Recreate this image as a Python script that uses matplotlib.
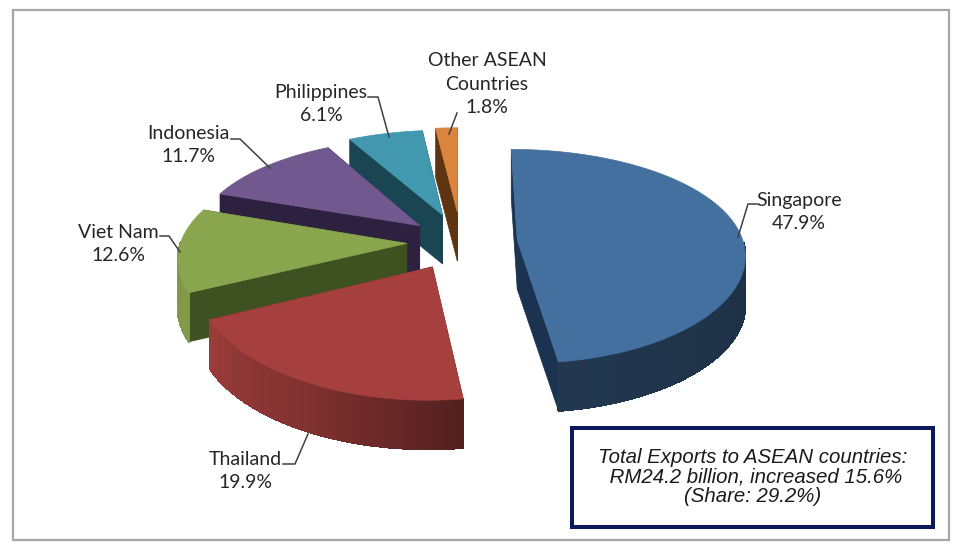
"""
Malaysia exports to ASEAN, exploded 3D pie drawn by hand with a small perspective projection
"""
import numpy as np
import matplotlib
matplotlib.use("Agg")
import matplotlib.pyplot as plt
from matplotlib.patches import Polygon, Rectangle
from matplotlib.collections import PolyCollection
from matplotlib.colors import to_rgb

countries = ["Singapore", "Thailand", "Viet Nam", "Indonesia", "Philippines", "Other ASEAN\nCountries"]
shares = [47.9, 19.9, 12.6, 11.7, 6.1, 1.8]

colors = ["#44709F", "#A5403E", "#89A54E", "#71588F", "#4198AF", "#DB843D"]
radial_colors = ["#1B3350", "#5A1F1F", "#3D5220", "#2E2140", "#1A4552", "#5E3510"]
explode = [0.25, 0.26, 0.24, 0.245, 0.28, 0.30]

# projection settings, in pixels
cx, cy = 461, 242
rx, ry = 226, 105
persp_x, persp_y = 0.12, 0.15
depth = 49


def project(x, y):
    return cx + rx * x / (1 + persp_x * y), cy - ry * y / (1 + persp_y * y)


fig = plt.figure(figsize=(9.6, 5.46), dpi=100)
ax = fig.add_axes([0, 0, 1, 1])
ax.set_xlim(0, 960)
ax.set_ylim(546, 0)
ax.axis("off")

ax.add_patch(Rectangle((13, 10), 936, 530, fc="white", ec="#A6A6A6", lw=1.6))

edges = np.cumsum([0] + shares) / 100 * 2 * np.pi


def shade(theta):
    # rim brightness around the pie
    deg = np.degrees(theta)
    return np.interp(deg, [90, 172, 205, 244, 270], [0.42, 0.5, 0.76, 0.94, 0.92])


# back slices first, Singapore goes on top
for i in range(len(shares) - 1, -1, -1):
    a0, a1 = edges[i], edges[i + 1]
    mid = (a0 + a1) / 2
    ex, ey = explode[i] * np.sin(mid), explode[i] * np.cos(mid)
    th = np.linspace(a0, a1, 80)
    px, py = project(ex + np.sin(th), ey + np.cos(th))
    ax_, ay_ = project(ex, ey)
    base = np.array(to_rgb(colors[i]))
    z = 3 * (5 - i)

    # radial walls
    for xr, yr in [(px[0], py[0]), (px[-1], py[-1])]:
        ax.add_patch(Polygon([(ax_, ay_), (xr, yr), (xr, yr + depth), (ax_, ay_ + depth)],
                             fc=radial_colors[i], ec=radial_colors[i], lw=0.5, zorder=2 + z))

    # rim wall, only the part turned to the viewer
    quads, cols = [], []
    for j in range(len(th) - 1):
        if np.cos(th[j]) > 0:
            continue
        quads.append([(px[j], py[j]), (px[j + 1], py[j + 1]),
                      (px[j + 1], py[j + 1] + depth), (px[j], py[j] + depth)])
        cols.append(np.clip(base * shade(th[j]), 0, 1))
    if quads:
        ax.add_collection(PolyCollection(quads, facecolors=cols, edgecolors=cols, lw=0.8,
                                         antialiaseds=False, zorder=3 + z))

    # top face
    ax.add_patch(Polygon(np.column_stack([np.r_[ax_, px], np.r_[ay_, py]]),
                         fc=colors[i], ec=colors[i], lw=0.5, zorder=4 + z))

# labels and leader lines
label_font = dict(family="Lato", fontsize=14, color="#262626", ha="center", va="center", linespacing=1.45, zorder=30)
label_pos = [(799, 212), (245, 471), (118, 244), (188, 145), (321, 104), (487, 84)]
for name, val, (lx, ly) in zip(countries, shares, label_pos):
    ax.text(lx, ly, f"{name}\n{val}%", **label_font)

leaders = [
    ([757, 748, 738], [204, 204, 237]),
    ([283, 295, 308], [464, 464, 434]),
    ([160, 169, 180], [236, 236, 252]),
    ([231, 240, 270], [139, 139, 168]),
    ([368, 378, 389], [97, 97, 137]),
    ([457, 449], [113, 134]),
]
for xs, ys in leaders:
    ax.plot(xs, ys, color="#404040", lw=1.1, zorder=29)

ax.add_patch(Rectangle((572, 428), 361, 99, fc="white", ec="#0A1A5C", lw=2.9, zorder=31))
ax.text(753, 477, "Total Exports to ASEAN countries:\n RM24.2 billion, increased 15.6%\n(Share: 29.2%)",
        family="Liberation Sans", style="italic", fontsize=14.7, color="#1A1A1A",
        ha="center", va="center", linespacing=1.03, zorder=32)

fig.savefig("out.png", dpi=100)
